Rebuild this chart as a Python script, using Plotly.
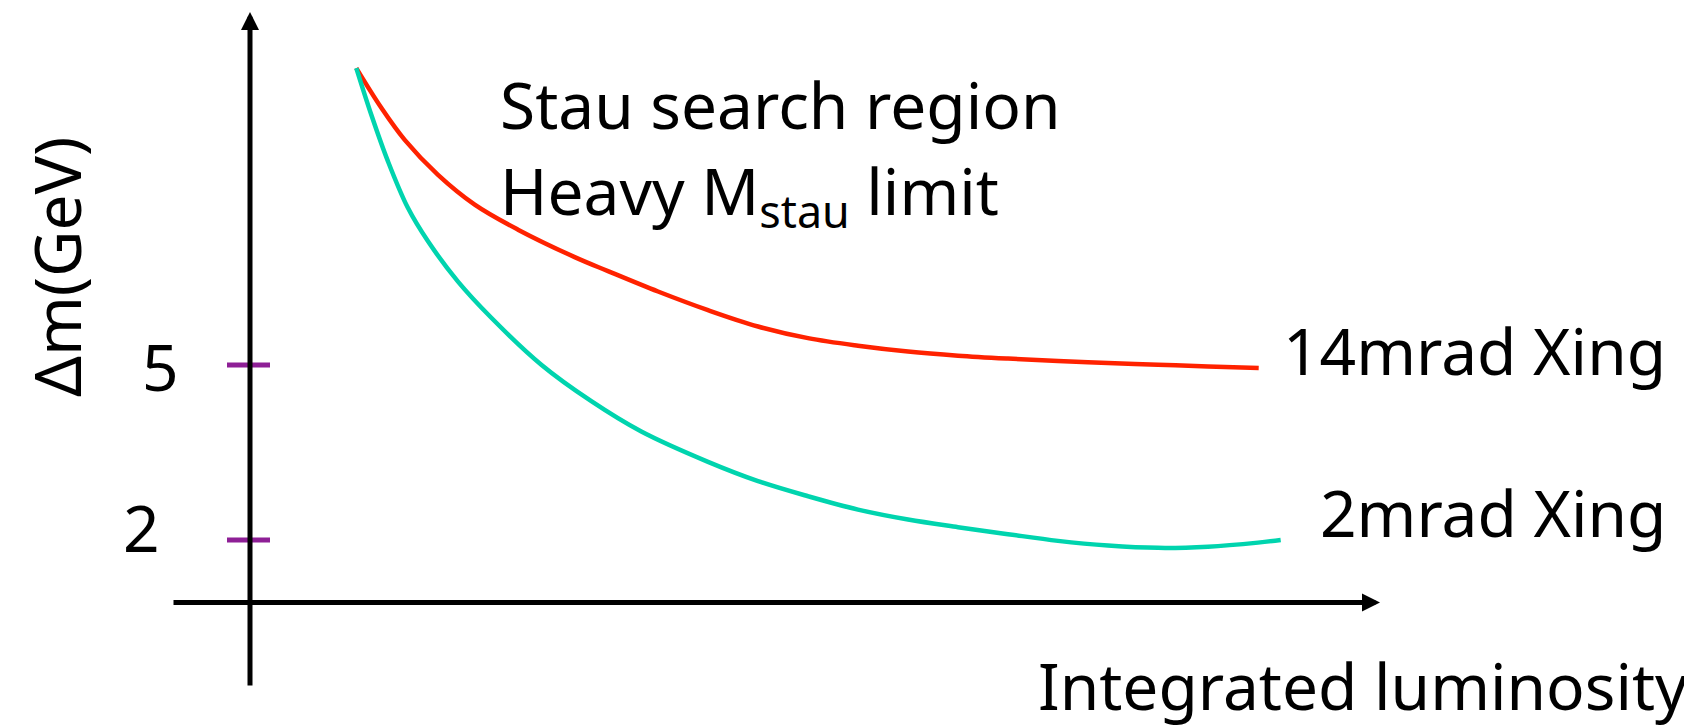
import plotly.graph_objects as go

# ---- data (arbitrary luminosity units, delta m in GeV) ----
lumi_14 = [1.063, 1.313, 1.547, 1.88, 2.247, 2.68, 3.247, 3.58, 4.08, 4.58, 5.08,
           5.58, 6.08, 6.58, 7.08, 7.58, 8.08, 8.58, 9.08, 9.58, 10.087]
dm_14 = [10.09, 9.41, 8.86, 8.26, 7.75, 7.32, 6.85, 6.61, 6.26, 5.94, 5.66,
         5.46, 5.33, 5.23, 5.16, 5.11, 5.07, 5.035, 5.005, 4.976, 4.949]

lumi_2 = [1.063, 1.213, 1.38, 1.58, 1.78, 2.08, 2.413, 2.913, 3.413, 3.913, 4.58,
          5.08, 5.58, 6.08, 6.58, 7.08, 7.58, 8.08, 8.58, 9.08, 9.58, 10.08, 10.307]
dm_2 = [10.09, 9.29, 8.49, 7.69, 7.12, 6.43, 5.81, 5.005, 4.38, 3.86, 3.34,
        3.01, 2.75, 2.52, 2.35, 2.22, 2.10, 1.985, 1.905, 1.865, 1.885, 1.955, 2.00]

series_names = ["14mrad Xing", "2mrad Xing"]
tick_values = [5, 2]
tick_labels = ["5", "2"]
y_title = "Δm(GeV)"
x_title = "Integrated luminosity"
note_lines = ["Stau search region", "Heavy M<sub>stau</sub> limit"]

# ---- styling ----
W, H = 1692, 727
FONT = "Noto Sans"
FS = 64
RED = "#FF2200"
GREEN = "#00D4AE"
PURPLE = "#8E1F96"

X_RANGE = [-2.42, 14.50]
Y_RANGE = [-1.343, 11.12]
X_AXIS_Y = 0.929
X_AXIS_FROM, X_AXIS_TO = -0.78, 11.30
Y_AXIS_FROM, Y_AXIS_TO = -0.52, 11.05

# tick label placement (x position, y nudge)
tick_label_pos = {"5": (-0.90, -0.02), "2": (-1.09, 0.21)}


def px(xp):
    return xp / W


def py(yp):
    return 1 - yp / H


fig = go.Figure()

# curves
fig.add_trace(go.Scatter(x=lumi_14, y=dm_14, mode="lines", name=series_names[0],
                         line=dict(color=RED, width=4.5, shape="spline", smoothing=1.0)))
fig.add_trace(go.Scatter(x=lumi_2, y=dm_2, mode="lines", name=series_names[1],
                         line=dict(color=GREEN, width=4.5, shape="spline", smoothing=1.0)))

# tick marks
for tv in tick_values:
    fig.add_trace(go.Scatter(x=[-0.23, 0.20], y=[tv, tv], mode="lines",
                             line=dict(color=PURPLE, width=5), showlegend=False,
                             hoverinfo="skip"))

annotations = []
# axis arrows
annotations.append(dict(x=X_AXIS_TO, y=X_AXIS_Y, ax=X_AXIS_FROM, ay=X_AXIS_Y,
                        xref="x", yref="y", axref="x", ayref="y", text="",
                        showarrow=True, arrowhead=2, arrowsize=0.72, arrowwidth=5,
                        arrowcolor="black", standoff=0, startstandoff=0))
annotations.append(dict(x=0, y=Y_AXIS_TO, ax=0, ay=Y_AXIS_FROM,
                        xref="x", yref="y", axref="x", ayref="y", text="",
                        showarrow=True, arrowhead=2, arrowsize=0.72, arrowwidth=5,
                        arrowcolor="black", standoff=0, startstandoff=0))

# tick labels
for tv, tl in zip(tick_values, tick_labels):
    lx, dy = tick_label_pos[tl]
    annotations.append(dict(x=lx, y=tv + dy, xref="x", yref="y", text=tl,
                            showarrow=False, xanchor="center", yanchor="middle",
                            font=dict(family=FONT, size=FS, color="black")))

# y axis title (rotated)
annotations.append(dict(x=px(48), y=py(259), xref="paper", yref="paper", text=y_title,
                        textangle=-90, showarrow=False, xanchor="center", yanchor="middle",
                        font=dict(family=FONT, size=FS, color="black")))
# x axis title
annotations.append(dict(x=px(1682), y=py(677), xref="paper", yref="paper", text=x_title,
                        showarrow=False, xanchor="right", yanchor="middle",
                        font=dict(family=FONT, size=FS, color="black")))
# note text
annotations.append(dict(x=px(490), y=py(97), xref="paper", yref="paper", text=note_lines[0],
                        showarrow=False, xanchor="left", yanchor="middle",
                        font=dict(family=FONT, size=FS, color="black")))
annotations.append(dict(x=px(490), y=py(186), xref="paper", yref="paper", text=note_lines[1],
                        showarrow=False, xanchor="left", yanchor="middle",
                        font=dict(family=FONT, size=FS, color="black")))
# series labels
annotations.append(dict(x=px(1660), y=py(343), xref="paper", yref="paper", text=series_names[0],
                        showarrow=False, xanchor="right", yanchor="middle",
                        font=dict(family=FONT, size=FS, color="black")))
annotations.append(dict(x=px(1660), y=py(505), xref="paper", yref="paper", text=series_names[1],
                        showarrow=False, xanchor="right", yanchor="middle",
                        font=dict(family=FONT, size=FS, color="black")))

fig.update_layout(
    width=W, height=H,
    margin=dict(l=0, r=0, t=0, b=0),
    paper_bgcolor="white", plot_bgcolor="white",
    showlegend=False,
    xaxis=dict(visible=False, range=X_RANGE, fixedrange=True),
    yaxis=dict(visible=False, range=Y_RANGE, fixedrange=True),
    annotations=annotations,
)

fig.write_html("out.html")
